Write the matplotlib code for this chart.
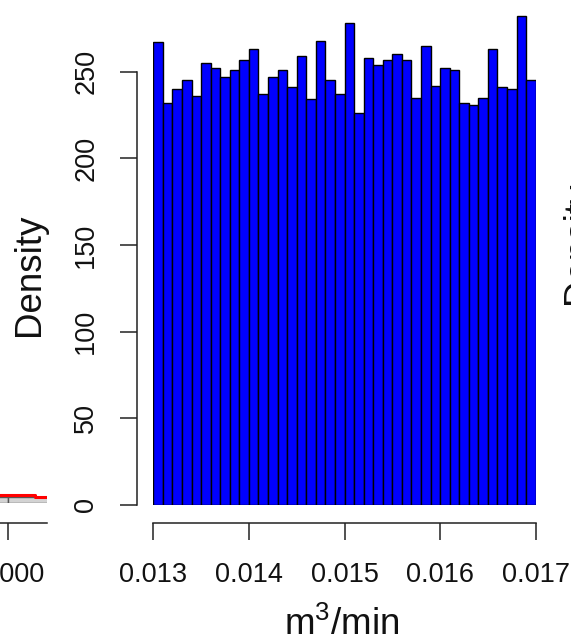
import matplotlib
matplotlib.use('Agg')
import matplotlib.pyplot as plt
import numpy as np

plt.rcParams['font.family'] = ['Liberation Sans', 'DejaVu Sans']
plt.rcParams['mathtext.fontset'] = 'custom'
plt.rcParams['mathtext.rm'] = 'Liberation Sans'
plt.rcParams['mathtext.it'] = 'Liberation Sans'

# histogram of flow (m3/min), density scale
bin_edges = np.round(np.linspace(0.013, 0.017, 41), 4)
density = [267, 232, 240, 245, 236, 255, 252, 247, 251, 257,
           263, 237, 247, 251, 241, 259, 234, 268, 245, 237,
           278, 226, 258, 254, 257, 260, 257, 235, 265, 242,
           252, 251, 232, 231, 235, 263, 241, 240, 282, 245]
x_ticks = [0.013, 0.014, 0.015, 0.016, 0.017]
x_labels = ['0.013', '0.014', '0.015', '0.016', '0.017']
y_ticks = [0, 50, 100, 150, 200, 250]

# neighbouring panel on the left (only its edge is visible)
left_edges = [9500, 10000, 10500]
left_density = [3.2, 3.2]
left_curve_x = [9500, 10290, 10290, 10500]
left_curve_y = [4.6, 4.6, 3.5, 3.5]

W, H = 571, 639
fig = plt.figure(figsize=(W / 100, H / 100), dpi=100)


def px_rect(x0, x1, ytop, ybot):
    return [x0 / W, 1 - ybot / H, (x1 - x0) / W, (ybot - ytop) / H]


def r_axes(ax, out_x, out_y):
    for s in ['top', 'right']:
        ax.spines[s].set_visible(False)
    ax.spines['bottom'].set_position(('outward', out_y))
    ax.spines['left'].set_position(('outward', out_x))
    for s in ['bottom', 'left']:
        ax.spines[s].set_linewidth(1.1)
        ax.spines[s].set_color('#222222')
    ax.tick_params(length=12, width=1.1, color='#222222', labelsize=19.5,
                   labelcolor='#111111')


# main panel
px_per_unit = 1.733
ax = fig.add_axes(px_rect(153.3, 535.7, 0, 505))
ax.bar(bin_edges[:-1], density, width=np.diff(bin_edges), align='edge',
       color='#0000ff', edgecolor='black', linewidth=1.0)
ax.set_xlim(0.013, 0.017)
ax.set_ylim(0, 505 / px_per_unit)
r_axes(ax, 12, 12.7)
ax.spines['bottom'].set_bounds(0.013, 0.017)
ax.spines['left'].set_bounds(0, 250)
ax.set_xticks(x_ticks)
ax.set_xticklabels(x_labels)
ax.set_yticks(y_ticks)
ax.set_yticklabels([str(v) for v in y_ticks], rotation=90, va='center')
ax.tick_params(axis='x', pad=16.5)
ax.tick_params(axis='y', pad=15)

fig.text(30 / W, 1 - 275 / H, 'Density', rotation=90, ha='center',
         va='center', fontsize=26.5, color='#111111')
fig.text(342 / W, 1 - 635 / H, r'm$^{\mathregular{3}}$/min', ha='center',
         va='baseline', fontsize=26.5, color='#111111')

# left panel edge
ax0 = fig.add_axes(px_rect(-88, 47, 0, 503))
ax0.bar(left_edges[:-1], left_density, width=np.diff(left_edges),
        align='edge', color='#d3d3d3', edgecolor='#555555', linewidth=1.0)
ax0.plot(left_curve_x, left_curve_y, color='red', linewidth=2.2)
ax0.set_xlim(9000, 10413.6)
ax0.set_ylim(0, 503 / px_per_unit)
r_axes(ax0, 0, 14.2)
ax0.spines['left'].set_visible(False)
ax0.set_yticks([])
ax0.set_xticks([10000])
ax0.set_xticklabels(['10000'])
ax0.tick_params(axis='x', pad=16.5)

# right panel label edge
fig.text(561 / W, 1 - 243 / H, 'Density', rotation=90, ha='left',
         va='center', fontsize=26.5, color='#111111')

fig.savefig('out.png', dpi=100)
